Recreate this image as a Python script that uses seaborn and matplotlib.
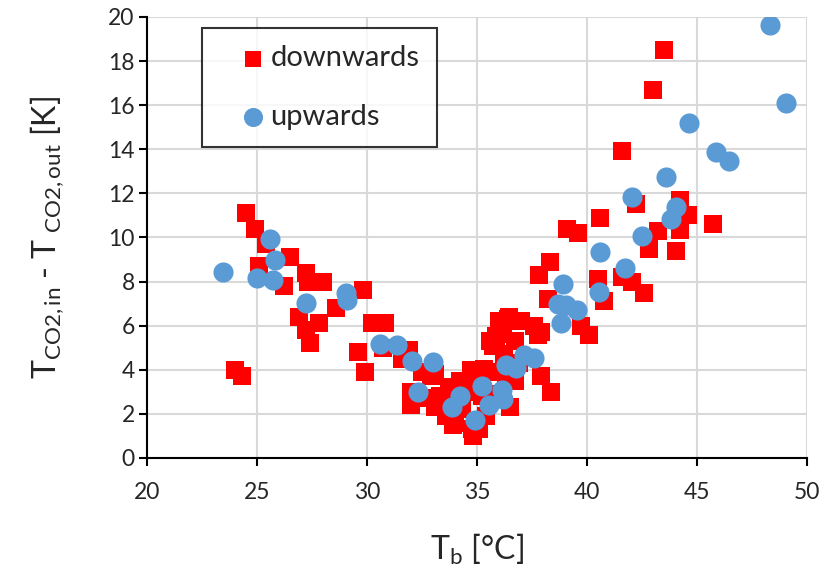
import matplotlib
matplotlib.use("Agg")
import matplotlib.pyplot as plt
import seaborn as sns
import pandas as pd

# downwards (red squares)
down_T = [24.0, 24.3, 24.5, 24.9, 25.4, 25.1, 26.5, 26.2, 27.2, 27.3, 28.0, 26.9,
          27.2, 27.4, 27.8, 28.6, 29.8, 29.6, 29.9, 30.2, 30.8, 30.7, 31.6, 31.9,
          32.0, 32.0, 32.5, 32.9, 33.1, 33.1, 33.6, 33.7, 34.0, 34.0, 34.3, 34.5,
          34.7, 34.8, 35.1, 35.3, 35.2, 35.4, 35.5, 35.6, 35.7, 35.85, 36.0, 36.16,
          36.4, 36.45, 36.7, 36.5, 36.7, 37.0, 37.6, 37.75, 37.9, 37.9, 38.35, 38.2,
          37.8, 38.3, 39.1, 39.6, 39.7, 40.1, 40.5, 40.75, 40.6, 41.6, 41.6, 42.05,
          42.6, 42.2, 43.0, 43.5, 44.2, 44.6, 44.2, 43.2, 42.8, 44.05, 45.7, 33.3,
          32.6, 34.2, 35.0, 36.3, 36.9, 33.9, 34.75, 35.5, 36.2]
down_dT = [4.0, 3.7, 11.1, 10.4, 9.7, 8.7, 9.1, 7.8, 8.4, 8.0, 8.0, 6.4,
           5.8, 5.2, 6.1, 6.8, 7.6, 4.8, 3.9, 6.1, 6.1, 5.0, 4.5, 4.9,
           3.0, 2.4, 3.9, 3.7, 3.8, 2.3, 1.9, 3.2, 2.6, 1.6, 2.2, 3.0,
           4.0, 1.0, 1.3, 4.05, 2.8, 1.9, 3.9, 5.3, 5.1, 5.55, 6.2, 5.62,
           6.3, 6.4, 5.3, 2.3, 3.5, 6.2, 6.0, 5.6, 5.7, 3.7, 3.0, 7.2,
           8.3, 8.9, 10.4, 10.2, 6.0, 5.6, 8.1, 7.1, 10.9, 13.9, 8.2, 8.0,
           7.5, 11.5, 16.7, 18.5, 11.7, 11.0, 10.35, 10.3, 9.5, 9.4, 10.6, 2.8,
           2.7, 3.5, 3.8, 3.8, 4.3, 1.5, 1.3, 2.9, 4.7]

# upwards (blue circles)
up_T = [23.44, 25.0, 25.6, 25.79, 25.73, 27.23, 29.05, 29.07, 30.56, 31.37, 32.02,
        32.3, 32.99, 33.85, 34.2, 34.88, 35.2, 35.56, 36.12, 36.16, 36.31, 36.77,
        37.14, 37.6, 38.66, 38.8, 38.9, 39.05, 39.55, 40.53, 40.6, 41.72, 42.02,
        42.48, 43.57, 43.8, 44.06, 44.65, 45.86, 46.47, 48.29, 49.05]
up_dT = [8.43, 8.18, 9.95, 9.0, 8.05, 7.05, 7.5, 7.15, 5.16, 5.14, 4.4,
         2.97, 4.35, 2.32, 2.8, 1.74, 3.25, 2.42, 3.07, 2.69, 4.22, 4.08,
         4.65, 4.55, 6.98, 6.12, 7.9, 6.95, 6.72, 7.54, 9.35, 8.62, 11.82,
         10.06, 12.72, 10.85, 11.4, 15.17, 13.89, 13.48, 19.62, 16.11]

x_ticks = [20, 25, 30, 35, 40, 45, 50]
y_ticks = [0, 2, 4, 6, 8, 10, 12, 14, 16, 18, 20]

df_down = pd.DataFrame({"Tb": down_T, "dT": down_dT, "series": "downwards"})
df_up = pd.DataFrame({"Tb": up_T, "dT": up_dT, "series": "upwards"})

sns.set_theme(style="white")
plt.rcParams["font.family"] = ["Lato", "DejaVu Sans"]
plt.rcParams["mathtext.fontset"] = "custom"
plt.rcParams["mathtext.rm"] = "Lato"
plt.rcParams["mathtext.it"] = "Lato"

fig = plt.figure(figsize=(8.27, 5.75), dpi=100)
ax = fig.add_axes([0.178, 0.2035, 0.798, 0.767])

sns.scatterplot(data=df_down, x="Tb", y="dT", marker="s", color="#FF0000",
                s=165, linewidth=0, ax=ax, label="downwards", zorder=3)
sns.scatterplot(data=df_up, x="Tb", y="dT", marker="o", color="#5B9BD5",
                s=210, linewidth=0, ax=ax, label="upwards", zorder=4)

ax.set_xlim(20, 50)
ax.set_ylim(0, 20)
ax.set_xticks(x_ticks)
ax.set_yticks(y_ticks)
ax.grid(True, color="#D9D9D9", linewidth=1.5, zorder=0)
ax.set_axisbelow(True)
for side in ["top", "right"]:
    ax.spines[side].set_visible(False)
for side in ["left", "bottom"]:
    ax.spines[side].set_color("black")
    ax.spines[side].set_linewidth(1.5)
ax.tick_params(axis="both", direction="out", length=6, width=1.5, color="black",
               labelsize=16.5, labelcolor="#262626")
ax.tick_params(axis="x", pad=11)
ax.tick_params(axis="y", pad=3)
ax.tick_params(left=True, bottom=True)

ax.set_xlabel(r"$\mathregular{T_b}$ [°C]", fontsize=23, color="#262626", labelpad=21)
ax.set_ylabel(r"$\mathregular{T_{CO2,in}}$ - $\mathregular{T_{\ CO2,out}}$ [K]",
              fontsize=23, color="#262626", labelpad=30)

leg = ax.legend(loc="upper left", bbox_to_anchor=(0.083, 0.975), frameon=True,
                fancybox=False, edgecolor="black", fontsize=21, borderpad=0.6,
                labelspacing=1.1, handletextpad=-0.55, borderaxespad=0,
                handlelength=2.3, markerscale=0.95)
leg.get_frame().set_linewidth(1.5)
for t in leg.get_texts():
    t.set_color("#262626")

fig.savefig("out.png", dpi=100)
